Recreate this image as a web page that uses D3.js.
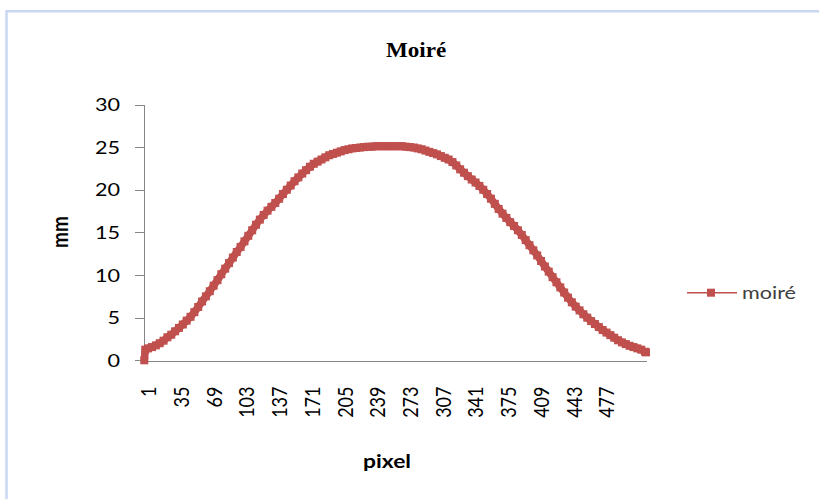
<!DOCTYPE html>
<html><head><meta charset="utf-8">
<script src="https://cdn.jsdelivr.net/npm/d3@7"></script>
<style>body{margin:0;background:#fff;overflow:hidden}</style>
</head><body>
<svg id="c" width="819" height="499"></svg>
<script>
const chartTitle = "Moiré";
const xTitle = "pixel";
const yTitle = "mm";
const seriesName = "moiré";
const xTickLabels = [1,35,69,103,137,171,205,239,273,307,341,375,409,443,477];
const yTickValues = [0,5,10,15,20,25,30];
const pixels = [
  1,2,5,9,13,17,21,25,29,33,
  37,41,45,49,53,57,61,65,69,73,
  77,81,85,89,93,97,101,105,109,113,
  117,121,125,129,133,137,141,145,149,153,
  157,161,165,169,173,177,181,185,189,193,
  197,201,205,209,213,217,221,225,229,233,
  237,241,245,249,253,257,261,265,269,273,
  277,281,285,289,293,297,301,305,309,313,
  317,321,325,329,333,337,341,345,349,353,
  357,361,365,369,373,377,381,385,389,393,
  397,401,405,409,413,417,421,425,429,433,
  437,441,445,449,453,457,461,465,469,473,
  477,481,485,489,493,497,501,505,509,513,
  517,521,522];
const moire = [
  0,1.25,1.4,1.55,1.75,2.0,2.3,2.7,3.0,3.4,
  3.8,4.2,4.65,5.1,5.65,6.25,6.9,7.5,8.1,8.75,
  9.4,10.1,10.75,11.4,12.05,12.7,13.3,13.95,14.6,15.25,
  15.9,16.5,17.05,17.55,18.0,18.45,18.95,19.5,20.0,20.5,
  21.0,21.45,21.9,22.3,22.7,23.05,23.3,23.55,23.8,24.05,
  24.2,24.35,24.5,24.65,24.75,24.85,24.9,24.95,25.0,25.05,
  25.05,25.1,25.1,25.1,25.1,25.1,25.1,25.1,25.1,25.05,
  25.0,24.95,24.85,24.75,24.6,24.45,24.3,24.15,23.95,23.75,
  23.55,23.25,22.85,22.4,22.0,21.6,21.2,20.85,20.45,20.0,
  19.5,18.95,18.35,17.75,17.2,16.7,16.2,15.75,15.25,14.7,
  14.1,13.5,12.9,12.3,11.65,11.0,10.4,9.75,9.15,8.55,
  7.95,7.35,6.8,6.3,5.85,5.4,5.0,4.6,4.25,3.9,
  3.55,3.25,2.95,2.65,2.35,2.1,1.9,1.7,1.55,1.4,
  1.25,1.0,0.93];

const data = pixels.map((p,i)=>({p, v: moire[i]}));
const color = "#C0504D";
const axisColor = "#868686";
const font = "Lato, 'Open Sans', sans-serif";
const sx = 1.2; // horizontal stretch of text

const svg = d3.select("#c");

// outer frame (top and left edges visible)
svg.append("path").attr("d","M6.5,499 L6.5,11.2 L819,11.2")
  .attr("fill","none").attr("stroke","#C9D8F0").attr("stroke-width",2.5);

const x = d3.scaleLinear().domain([1, 522]).range([144.3, 646]);
const y = d3.scaleLinear().domain([0, 30]).range([360.3, 104.5]);

// y axis
const yAxis = d3.axisLeft(y).tickValues(yTickValues).tickSize(9).tickSizeOuter(0).tickPadding(0).tickFormat(()=> "");
const gy = svg.append("g").attr("transform","translate(144,0)").call(yAxis);
gy.select(".domain").attr("stroke",axisColor).attr("shape-rendering","crispEdges");
gy.selectAll(".tick line").attr("stroke",axisColor).attr("shape-rendering","crispEdges");
gy.selectAll(".tick").append("text")
  .attr("transform", `translate(-24,6) scale(${sx},1)`)
  .attr("text-anchor","end")
  .attr("fill","#000")
  .style("font-family",font).style("font-size","18px")
  .text(d=>d);

// x axis
const xAxis = d3.axisBottom(x).tickValues(xTickLabels).tickSize(0).tickSizeOuter(0).tickFormat(()=> "");
const gx = svg.append("g").attr("transform","translate(0,360.5)").call(xAxis);
gx.select(".domain").attr("stroke",axisColor).attr("shape-rendering","crispEdges");
gx.selectAll(".tick").append("text")
  .attr("transform", `translate(3.7,26) scale(${sx},1) rotate(-90)`)
  .attr("text-anchor","end")
  .attr("dy","0.35em")
  .attr("fill","#000")
  .style("font-family",font).style("font-size","18px")
  .text(d=>d);

// series
const line = d3.line().x(d=>x(d.p)).y(d=>y(d.v));
svg.append("path").datum(data).attr("d",line)
  .attr("fill","none").attr("stroke",color).attr("stroke-width",7.5)
  .attr("stroke-linejoin","round");
const ms = 8;
svg.append("g").selectAll("rect").data(data).join("rect")
  .attr("x",d=>x(d.p)-ms/2).attr("y",d=>y(d.v)-ms/2)
  .attr("width",ms).attr("height",ms).attr("fill",color);

// title
svg.append("text").attr("transform",`translate(416,57) scale(1.1,1)`)
  .attr("text-anchor","middle")
  .style("font-family","'Liberation Serif', 'Times New Roman', serif")
  .style("font-weight","bold").style("font-size","21px")
  .text(chartTitle);

// axis titles
svg.append("text").attr("transform",`translate(387,468) scale(${sx},1)`)
  .attr("text-anchor","middle")
  .style("font-family",font).style("font-weight","bold").style("font-size","19px")
  .text(xTitle);
svg.append("text").attr("transform",`translate(68,232) scale(${sx},1) rotate(-90)`)
  .attr("text-anchor","middle")
  .style("font-family",font).style("font-weight","bold").style("font-size","19px")
  .text(yTitle);

// legend
const lg = svg.append("g");
lg.append("line").attr("x1",687).attr("x2",737).attr("y1",292.7).attr("y2",292.7)
  .attr("stroke",color).attr("stroke-width",1.5);
lg.append("rect").attr("x",711-4).attr("y",292.7-4).attr("width",8).attr("height",8).attr("fill",color);
lg.append("text").attr("transform",`translate(742,299) scale(${sx},1)`)
  .style("font-family",font).style("font-size","18px").attr("fill","#404040")
  .text(seriesName);
</script>
</body></html>
